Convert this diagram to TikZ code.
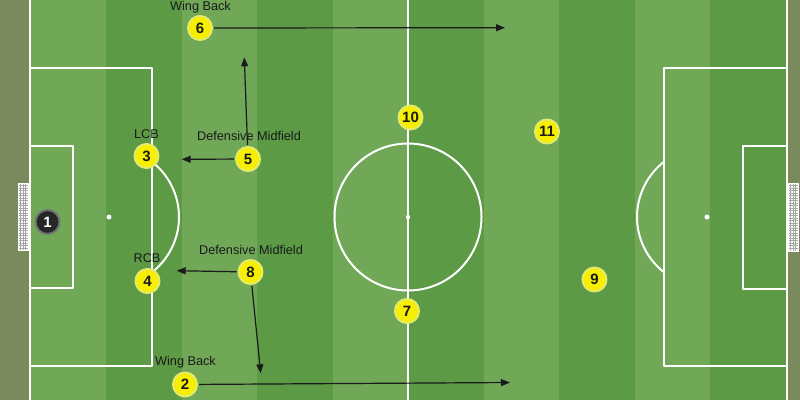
\documentclass[tikz,border=0pt]{standalone}
\usepackage{fontspec}
\setmainfont{Liberation Sans}
\usetikzlibrary{arrows.meta}
\definecolor{grass1}{HTML}{70A857}
\definecolor{grass2}{HTML}{5C9A45}
\definecolor{verge}{HTML}{7B8A5C}
\definecolor{plyellow}{HTML}{F7EF00}
\definecolor{plhalo}{HTML}{E6EA6A}
\definecolor{ink}{HTML}{1A1A1A}
\begin{document}
\begin{tikzpicture}[x=1pt,y=-1pt,line join=round,
  pline/.style={white,line width=2pt},
  netc/.style={black!35,line width=0.35pt},
  player/.style={circle,fill=plyellow,draw=plhalo,line width=2pt,minimum size=24pt,inner sep=0pt,
    font=\bfseries\fontsize{15}{15}\selectfont,text=ink},
  keeper/.style={player,fill=black!85,draw=black!55,text=white},
  role/.style={font=\fontsize{12.7}{13}\selectfont,text=ink,inner sep=0pt},
  run/.style={ink,line width=1.2pt,-{Triangle[length=9pt,width=7pt]},shorten <=1pt}]
\useasboundingbox (0,0) rectangle (800,400);
\clip (0,0) rectangle (800,400);
% ground
\fill[verge] (0,0) rectangle (800,400);
\fill[grass1] (29,0) rectangle (788,400);
\foreach \i in {1,3,5,7,9}
  \fill[grass2] ({30.6+75.5*\i},0) rectangle ({30.6+75.5*(\i+1)},400);
% goals
\fill[white] (18,183) rectangle (28,250);
\foreach \yy in {185.5,188,...,248} \draw[netc] (18,\yy) -- (28,\yy);
\foreach \xx in {20.5,23,25.5} \draw[netc] (\xx,183) -- (\xx,250);
\draw[white,line width=0.8pt] (18,183) rectangle (28,250);
\fill[white] (788,183) rectangle (798,251);
\foreach \yy in {185.5,188,...,249} \draw[netc] (788,\yy) -- (798,\yy);
\foreach \xx in {790.5,793,795.5} \draw[netc] (\xx,183) -- (\xx,251);
\draw[white,line width=0.8pt] (788,183) rectangle (798,251);
% markings
\draw[pline] (30,-5) -- (30,405);
\draw[pline] (787,-5) -- (787,405);
\draw[pline] (408,-5) -- (408,405);
\draw[pline] (30,68) -- (152,68) -- (152,366) -- (30,366);
\draw[pline] (30,146) -- (73,146) -- (73,288) -- (30,288);
\draw[pline] (787,68) -- (664,68) -- (664,366) -- (787,366);
\draw[pline] (787,146) -- (743,146) -- (743,289) -- (787,289);
\draw[pline] (408,217) circle[radius=73.5];
\draw[pline] (109,217) ++(-52.1:70) arc[start angle=-52.1,end angle=52.1,radius=70];
\draw[pline] (707,217) ++(127.9:70) arc[start angle=127.9,end angle=232.1,radius=70];
\fill[white] (109,217) circle[radius=2.5];
\fill[white] (707,217) circle[radius=2.5];
\fill[white] (408,217) circle[radius=2.2];
% players
\node[keeper] (p1) at (47.5,222) {1};
\node[player] (p6) at (200,28) {6};
\node[player] (p3) at (146.5,156) {3};
\node[player] (p5) at (248,159) {5};
\node[player] (p4) at (147.5,281) {4};
\node[player] (p8) at (250.5,272) {8};
\node[player] (p2) at (185,384.5) {2};
\node[player] (p10) at (410.5,117.5) {10};
\node[player] (p11) at (547,131.5) {11};
\node[player] (p7) at (407,311) {7};
\node[player] (p9) at (594.5,279.5) {9};
% roles
\node[role] (l6) at (200.5,6.8) {Wing Back};
\node[role] (l3) at (146.5,134) {LCB};
\node[role] (l5) at (249,136) {Defensive Midfield};
\node[role] (l4) at (147,258.5) {RCB};
\node[role] (l8) at (251,250) {Defensive Midfield};
\node[role] (l2) at (185.5,362.5) {Wing Back};
% runs
\coordinate (t6) at (505,27.7);
\coordinate (t5a) at (244.3,57.3);
\coordinate (t5b) at (181.7,159.3);
\coordinate (t8a) at (176.7,270.7);
\coordinate (t8b) at (260.7,373.3);
\coordinate (t2) at (510,382.5);
\draw[run] (p6) -- (t6);
\draw[run] (p5) -- (t5a);
\draw[run] (p5) -- (t5b);
\draw[run] (p8) -- (t8a);
\draw[run] (p8) -- (t8b);
\draw[run] (p2) -- (t2);
\end{tikzpicture}
\end{document}
